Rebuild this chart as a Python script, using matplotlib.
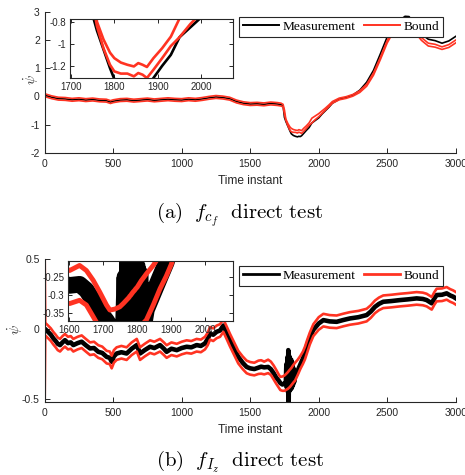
import matplotlib
matplotlib.use("Agg")
import matplotlib.pyplot as plt
from matplotlib.lines import Line2D
from matplotlib import ticker

plt.rcParams['mathtext.fontset'] = 'cm'
plt.rcParams['axes.unicode_minus'] = False
plt.rcParams['font.family'] = ['Liberation Sans', 'DejaVu Sans']

# ---------------- data (a): f_cf direct test ----------------
t_a = [0, 3, 50, 100, 150, 200, 250, 300, 350, 400, 450, 480, 500, 550, 600, 650,
       700, 750, 800, 850, 900, 950, 1000, 1050, 1100, 1150, 1200, 1250, 1300, 1350,
       1400, 1450, 1500, 1550, 1600, 1650, 1700, 1725, 1740, 1750, 1760, 1775, 1790,
       1800, 1815, 1830, 1845, 1855, 1865, 1875, 1890, 1910, 1930, 1950, 1975, 2000,
       2025, 2050, 2075, 2100, 2150, 2200, 2250, 2300, 2350, 2400, 2450, 2500, 2550,
       2600, 2630, 2660, 2700, 2750, 2800, 2850, 2900, 2950, 3000]
meas_a = [0.05, 0.04, -0.03, -0.08, -0.09, -0.12, -0.10, -0.13, -0.11, -0.14, -0.15, -0.20,
          -0.17, -0.13, -0.12, -0.15, -0.13, -0.11, -0.14, -0.12, -0.10, -0.12, -0.13, -0.10,
          -0.12, -0.09, -0.05, -0.02, -0.04, -0.08, -0.18, -0.24, -0.27, -0.26, -0.28, -0.25,
          -0.27, -0.29, -0.33, -0.74, -0.88, -1.05, -1.22, -1.32, -1.38, -1.41, -1.43, -1.41,
          -1.42, -1.39, -1.31, -1.20, -1.10, -0.94, -0.85, -0.76, -0.62, -0.50, -0.38, -0.24,
          -0.10, -0.04, 0.05, 0.22, 0.50, 0.92, 1.50, 2.10, 2.50, 2.72, 2.83, 2.82, 2.50,
          2.20, 2.02, 1.97, 1.88, 1.96, 2.12]
bound_hi_a = [0.50, 0.09, 0.02, -0.03, -0.04, -0.07, -0.05, -0.08, -0.06, -0.09, -0.10, -0.15,
              -0.12, -0.08, -0.07, -0.10, -0.08, -0.06, -0.09, -0.07, -0.05, -0.07, -0.08, -0.05,
              -0.07, -0.04, 0.00, 0.03, 0.01, -0.03, -0.13, -0.19, -0.22, -0.21, -0.23, -0.20,
              -0.22, -0.24, -0.28, -0.48, -0.80, -0.96, -1.08, -1.13, -1.17, -1.19, -1.205, -1.175,
              -1.19, -1.21, -1.13, -1.04, -0.935, -0.77, -0.69, -0.61, -0.51, -0.41, -0.30, -0.18,
              -0.06, -0.01, 0.07, 0.20, 0.43, 0.83, 1.38, 1.97, 2.40, 2.62, 2.72, 2.70, 2.38,
              2.08, 1.88, 1.84, 1.75, 1.83, 1.99]
bound_lo_a = [-0.50, -0.01, -0.08, -0.13, -0.14, -0.17, -0.15, -0.18, -0.16, -0.19, -0.20, -0.25,
              -0.22, -0.18, -0.17, -0.20, -0.18, -0.16, -0.19, -0.17, -0.15, -0.17, -0.18, -0.15,
              -0.17, -0.14, -0.10, -0.07, -0.09, -0.13, -0.23, -0.29, -0.32, -0.31, -0.33, -0.30,
              -0.32, -0.34, -0.37, -0.62, -0.84, -1.04, -1.19, -1.25, -1.27, -1.27, -1.295, -1.265,
              -1.28, -1.31, -1.235, -1.13, -1.02, -0.94, -0.82, -0.72, -0.60, -0.48, -0.36, -0.24,
              -0.12, -0.07, 0.01, 0.14, 0.36, 0.75, 1.30, 1.89, 2.32, 2.54, 2.64, 2.62, 2.28,
              1.98, 1.78, 1.74, 1.66, 1.73, 1.89]

# ---------------- data (b): f_Iz direct test ----------------
t_b = [0, 4, 25, 45, 63, 80, 95, 112, 130, 148, 170, 190, 209, 240, 270, 300, 331, 360,
       391, 420, 452, 475, 489, 505, 525, 560, 598, 635, 672, 696, 730, 769, 800, 842,
       870, 890, 925, 964, 1000, 1036, 1070, 1109, 1140, 1170, 1190, 1207, 1230, 1255,
       1280, 1304, 1330, 1353, 1383, 1413, 1445, 1474, 1500, 1530, 1560, 1580, 1602, 1631,
       1651, 1671, 1690, 1710, 1720, 1735, 1749, 1760, 1764, 1768, 1772, 1776, 1778, 1781,
       1784, 1788, 1792, 1796, 1800, 1804, 1808, 1812, 1816, 1820, 1827, 1847, 1867, 1885,
       1900, 1915, 1935, 1961, 2000, 2034, 2080, 2131, 2180, 2228, 2290, 2350, 2380, 2411,
       2440, 2471, 2530, 2593, 2650, 2715, 2760, 2788, 2825, 2845, 2861, 2900, 2934, 2960,
       2982, 3000]
meas_b = [0.000, 0.000, -0.020, -0.040, -0.066, -0.085, -0.105, -0.114, -0.095, -0.079,
          -0.100, -0.095, -0.114, -0.100, -0.090, -0.115, -0.138, -0.135, -0.162, -0.170,
          -0.198, -0.205, -0.233, -0.195, -0.174, -0.165, -0.174, -0.140, -0.114, -0.174,
          -0.150, -0.126, -0.135, -0.114, -0.140, -0.162, -0.140, -0.150, -0.135, -0.126,
          -0.130, -0.114, -0.120, -0.102, -0.070, -0.031, -0.040, -0.019, -0.010, 0.025,
          -0.030, -0.079, -0.140, -0.198, -0.240, -0.270, -0.280, -0.285, -0.275, -0.268,
          -0.273, -0.270, -0.286, -0.314, -0.346, -0.370, -0.385, -0.395, -0.390, -0.380,
          -0.250, -0.420, -0.200, -0.450, -0.150, -0.520, -0.190, -0.440, -0.210, -0.430,
          -0.220, -0.420, -0.240, -0.400, -0.280, -0.380, -0.340, -0.295, -0.250, -0.210,
          -0.165, -0.115, -0.060, -0.005, 0.040, 0.064, 0.055, 0.052, 0.065, 0.076, 0.085,
          0.100, 0.125, 0.159, 0.180, 0.195, 0.200, 0.207, 0.212, 0.219, 0.215, 0.207, 0.184,
          0.220, 0.243, 0.245, 0.255, 0.240, 0.231, 0.220]
bound_hi_b = [0.500, 0.045, 0.025, 0.005, -0.020, -0.040, -0.060, -0.070, -0.050, -0.035,
              -0.055, -0.050, -0.070, -0.055, -0.045, -0.070, -0.095, -0.090, -0.115, -0.125,
              -0.155, -0.160, -0.190, -0.150, -0.130, -0.120, -0.130, -0.095, -0.070, -0.130,
              -0.105, -0.080, -0.090, -0.070, -0.095, -0.115, -0.095, -0.105, -0.090, -0.080,
              -0.085, -0.070, -0.075, -0.055, -0.025, 0.015, 0.005, 0.025, 0.035, 0.070,
              0.015, -0.035, -0.095, -0.155, -0.195, -0.225, -0.235, -0.240, -0.225, -0.222,
              -0.232, -0.218, -0.232, -0.259, -0.291, -0.327, -0.341, -0.338, -0.332, -0.322,
              -0.318, -0.314, -0.310, -0.306, -0.303, -0.300, -0.296, -0.291, -0.287, -0.282,
              -0.278, -0.272, -0.266, -0.260, -0.255, -0.250, -0.241, -0.218, -0.190, -0.160,
              -0.125, -0.080, -0.025, 0.035, 0.085, 0.109, 0.100, 0.097, 0.110, 0.121, 0.130,
              0.145, 0.170, 0.204, 0.225, 0.240, 0.245, 0.252, 0.257, 0.264, 0.260, 0.252, 0.229,
              0.265, 0.288, 0.290, 0.300, 0.285, 0.276, 0.265]
bound_lo_b = [-0.500, -0.045, -0.065, -0.085, -0.110, -0.130, -0.150, -0.160, -0.140, -0.125,
              -0.145, -0.140, -0.160, -0.145, -0.135, -0.160, -0.185, -0.180, -0.205, -0.215,
              -0.245, -0.250, -0.280, -0.240, -0.220, -0.210, -0.220, -0.185, -0.160, -0.220,
              -0.195, -0.170, -0.180, -0.160, -0.185, -0.205, -0.185, -0.195, -0.180, -0.170,
              -0.175, -0.160, -0.165, -0.145, -0.115, -0.075, -0.085, -0.065, -0.055, -0.020,
              -0.075, -0.125, -0.185, -0.245, -0.285, -0.315, -0.325, -0.330, -0.320, -0.318,
              -0.323, -0.314, -0.327, -0.359, -0.390, -0.420, -0.435, -0.440, -0.440, -0.435,
              -0.432, -0.430, -0.428, -0.425, -0.423, -0.420, -0.418, -0.414, -0.410, -0.405,
              -0.400, -0.395, -0.390, -0.385, -0.380, -0.375, -0.368, -0.327, -0.282, -0.248,
              -0.215, -0.170, -0.110, -0.050, -0.005, 0.019, 0.010, 0.007, 0.020, 0.031, 0.040,
              0.055, 0.080, 0.114, 0.135, 0.150, 0.155, 0.162, 0.167, 0.174, 0.170, 0.162, 0.139,
              0.175, 0.198, 0.200, 0.210, 0.195, 0.186, 0.175]

x_ticks = [0, 500, 1000, 1500, 2000, 2500, 3000]
y_ticks_a = [-2, -1, 0, 1, 2, 3]
y_ticks_b = [-0.5, 0, 0.5]
inset_x_ticks_a = [1700, 1800, 1900, 2000]
inset_y_ticks_a = [-1.2, -1, -0.8]
inset_x_ticks_b = [1600, 1700, 1800, 1900, 2000]
inset_y_ticks_b = [-0.35, -0.3, -0.25]

RED = '#FF3322'
DARK = '#262626'
W, H = 465, 475

fig = plt.figure(figsize=(W / 100, H / 100), dpi=100)
fmt = ticker.FuncFormatter(lambda v, p: f'{v:g}')


def style_main(ax, yt, ylim):
    ax.set_xlim(0, 3000)
    ax.set_ylim(*ylim)
    ax.set_xticks(x_ticks)
    ax.set_yticks(yt)
    ax.xaxis.set_major_formatter(fmt)
    ax.yaxis.set_major_formatter(fmt)
    for s in ['top', 'right']:
        ax.spines[s].set_visible(False)
    for s in ['left', 'bottom']:
        ax.spines[s].set_color(DARK)
        ax.spines[s].set_linewidth(0.8)
    ax.tick_params(direction='in', length=3.5, width=0.7, colors=DARK,
                   labelsize=7.5, pad=3.5)
    ax.tick_params(axis='x', pad=4.5)
    ax.set_xlabel('Time instant', fontsize=8.6, color=DARK, labelpad=4)


def style_inset(ax, xt, yt, xlim, ylim):
    ax.set_xlim(*xlim)
    ax.set_ylim(*ylim)
    ax.set_xticks(xt)
    ax.set_yticks(yt)
    ax.xaxis.set_major_formatter(fmt)
    ax.yaxis.set_major_formatter(fmt)
    for s in ax.spines.values():
        s.set_color(DARK)
        s.set_linewidth(0.8)
    ax.tick_params(direction='in', length=3, width=0.7, colors=DARK, labelsize=7,
                   top=True, right=True, pad=3)


def add_legend(ax, y_top_px, lw):
    handles = [Line2D([], [], color='black', lw=lw),
               Line2D([], [], color=RED, lw=lw)]
    leg = ax.legend(handles, ['Measurement', 'Bound'], ncol=2,
                    loc='upper left',
                    bbox_to_anchor=(239 / W, 1 - y_top_px / H),
                    bbox_transform=fig.transFigure,
                    prop={'family': 'Liberation Serif', 'size': 9.6},
                    handlelength=2.75, handletextpad=0.25, columnspacing=0.6,
                    borderpad=0.28, borderaxespad=0, fancybox=False,
                    framealpha=1, edgecolor=DARK)
    leg.get_frame().set_linewidth(0.8)


# ---------------- panel (a) ----------------
ax1 = fig.add_axes([44.7 / W, 1 - 153 / H, 411 / W, 141.5 / H])
ax1.plot(t_a, meas_a, color='black', lw=1.2)
ax1.plot(t_a, bound_hi_a, color=RED, lw=1.2)
ax1.plot(t_a, bound_lo_a, color=RED, lw=1.2)
style_main(ax1, y_ticks_a, (-2, 3))
add_legend(ax1, 17, 1.4)

in1 = fig.add_axes([70 / W, 1 - 78 / H, 163 / W, 59 / H])
in1.plot(t_a, meas_a, color='black', lw=1.9)
in1.plot(t_a, bound_hi_a, color=RED, lw=1.9)
in1.plot(t_a, bound_lo_a, color=RED, lw=1.9)
style_inset(in1, inset_x_ticks_a, inset_y_ticks_a, (1698, 2073), (-1.31, -0.775))

fig.text(31 / W, 1 - 80 / H, r'$\dot{\psi}$', rotation=90, ha='center', va='center',
         fontsize=10, color=DARK)
fig.text(240 / W, 1 - 215 / H, r'$\mathrm{(a)}\ \ f_{c_f}\ \ \mathrm{direct\ test}$',
         ha='center', va='center', fontsize=15)

# ---------------- panel (b) ----------------
ax2 = fig.add_axes([44.7 / W, 1 - 402 / H, 411 / W, 143 / H])
ax2.plot(t_b, meas_b, color='black', lw=3.3)
ax2.plot(t_b, bound_hi_b, color=RED, lw=1.9)
ax2.plot(t_b, bound_lo_b, color=RED, lw=1.9)
style_main(ax2, y_ticks_b, (-0.52, 0.5))
add_legend(ax2, 265.7, 2.0)

in2 = fig.add_axes([68.3 / W, 1 - 321 / H, 164.4 / W, 60.3 / H])
in2.plot(t_b, meas_b, color='black', lw=12)
in2.plot(t_b, bound_hi_b, color=RED, lw=3.5)
in2.plot(t_b, bound_lo_b, color=RED, lw=3.5)
style_inset(in2, inset_x_ticks_b, inset_y_ticks_b, (1598, 2080), (-0.371, -0.205))

fig.text(15 / W, 1 - 330 / H, r'$\dot{\psi}$', rotation=90, ha='center', va='center',
         fontsize=10, color=DARK)
fig.text(240 / W, 1 - 462 / H, r'$\mathrm{(b)}\ \ f_{I_z}\ \ \mathrm{direct\ test}$',
         ha='center', va='center', fontsize=15)

fig.savefig('out.png', dpi=100)
